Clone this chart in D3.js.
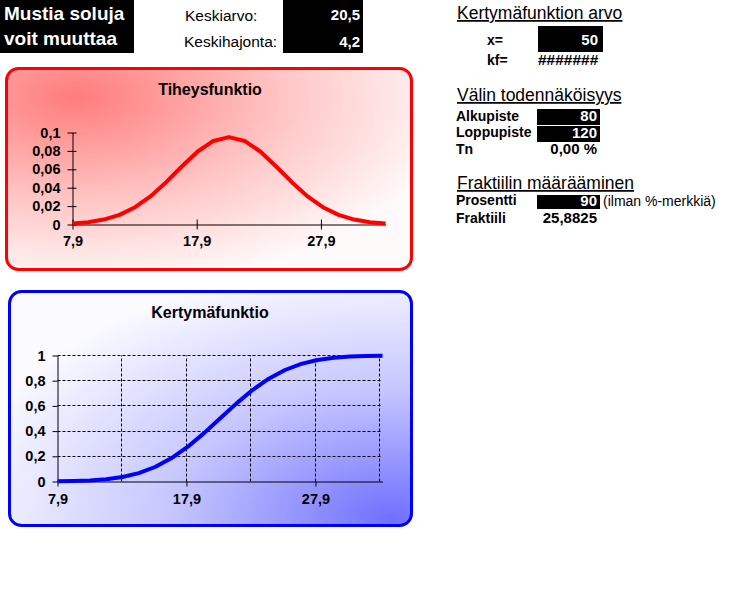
<!DOCTYPE html>
<html><head><meta charset="utf-8">
<script src="https://cdn.jsdelivr.net/npm/d3@7"></script>
<style>
body{margin:0;background:#fff}
text{font-family:"Liberation Sans",Arial,sans-serif}
</style>
</head><body>
<svg id="c" width="731" height="605"></svg>
<script>
// ---- data (normal distribution, mean 20,5, sd 4,2) ----
const xValues = [7.9, 9.16, 10.42, 11.68, 12.94, 14.2, 15.46, 16.72, 17.98, 19.24, 20.5,
                 21.76, 23.02, 24.28, 25.54, 26.8, 28.06, 29.32, 30.58, 31.84, 33.1];
const densityValues = [0.00106, 0.00248, 0.00533, 0.01047, 0.01880, 0.03084, 0.04624, 0.06335,
                       0.07934, 0.09081, 0.09499, 0.09081, 0.07934, 0.06335, 0.04624, 0.03084,
                       0.01880, 0.01047, 0.00533, 0.00248, 0.00106];
const cdfValues = [0.00135, 0.00347, 0.00820, 0.01786, 0.03593, 0.06681, 0.11507, 0.18406,
                   0.27425, 0.38209, 0.5, 0.61791, 0.72575, 0.81594, 0.88493, 0.93319,
                   0.96407, 0.98214, 0.99180, 0.99653, 0.99865];
const xTicks = [7.9, 17.9, 27.9];
const xGrid = [12.9, 17.9, 22.9, 27.9, 32.9];
const densityYTicks = [0, 0.02, 0.04, 0.06, 0.08, 0.1];
const cdfYTicks = [0, 0.2, 0.4, 0.6, 0.8, 1];
const xDomain = [7.9, 33.1];

const fmt = d => String(+d.toFixed(2)).replace('.', ',');

const svg = d3.select('#c');
svg.append('rect').attr('width', 731).attr('height', 605).attr('fill', '#fff');
const defs = svg.append('defs');

// gradients
const rg = defs.append('radialGradient').attr('id', 'redg')
  .attr('cx', 0.17).attr('cy', 0.14).attr('r', 0.95).attr('fx', 0.17).attr('fy', 0.14);
rg.append('stop').attr('offset', 0).attr('stop-color', '#ff7c7c');
rg.append('stop').attr('offset', 0.55).attr('stop-color', '#ffc6c6');
rg.append('stop').attr('offset', 1).attr('stop-color', '#fffafa');

const bg = defs.append('radialGradient').attr('id', 'blueg')
  .attr('cx', 0.95).attr('cy', 0.97).attr('r', 1.1).attr('fx', 0.95).attr('fy', 0.97);
bg.append('stop').attr('offset', 0).attr('stop-color', '#7070ff');
bg.append('stop').attr('offset', 0.5).attr('stop-color', '#c6c6ff');
bg.append('stop').attr('offset', 1).attr('stop-color', '#fbfbff');

// ---- header (spreadsheet cells) ----
const hdr = svg.append('g');
hdr.append('rect').attr('x', 0).attr('y', 0).attr('width', 134).attr('height', 53).attr('fill', '#000');
hdr.append('text').attr('x', 4).attr('y', 20).attr('fill', '#fff').attr('font-weight', 'bold')
  .attr('font-size', 19).text('Mustia soluja');
hdr.append('text').attr('x', 4).attr('y', 45).attr('fill', '#fff').attr('font-weight', 'bold')
  .attr('font-size', 19).text('voit muuttaa');
hdr.append('text').attr('x', 185).attr('y', 21).attr('font-size', 15.5).text('Keskiarvo:');
hdr.append('text').attr('x', 184).attr('y', 47).attr('font-size', 15.5).text('Keskihajonta:');
hdr.append('rect').attr('x', 283).attr('y', 0).attr('width', 80).attr('height', 53).attr('fill', '#000');
hdr.append('text').attr('x', 360).attr('y', 20).attr('text-anchor', 'end').attr('fill', '#fff')
  .attr('font-weight', 'bold').attr('font-size', 15).text('20,5');
hdr.append('text').attr('x', 360).attr('y', 47).attr('text-anchor', 'end').attr('fill', '#fff')
  .attr('font-weight', 'bold').attr('font-size', 15).text('4,2');

// right side cells
const rp = svg.append('g');
function heading(y, t){
  rp.append('text').attr('x', 457).attr('y', y).attr('font-size', 17.5)
    .style('text-decoration', 'underline').text(t);
}
function label(x, y, t, opts = {}){
  const el = rp.append('text').attr('x', x).attr('y', y).attr('font-size', opts.size || 14)
    .attr('font-weight', opts.normal ? 'normal' : 'bold').text(t);
  if (opts.end) el.attr('text-anchor', 'end');
  if (opts.fill) el.attr('fill', opts.fill);
  if (opts.italic) el.attr('font-style', 'italic');
  return el;
}
function box(x, y, w, h){ rp.append('rect').attr('x', x).attr('y', y).attr('width', w).attr('height', h).attr('fill', '#000'); }

heading(19, 'Kertymäfunktion arvo');
label(487, 45, 'x=');
box(538, 26, 65, 26);
label(598, 45, '50', {end: true, fill: '#fff', size: 15});
label(487, 65, 'kf=');
label(598, 65, '#######', {end: true, italic: true, size: 15.5});

heading(101, 'Välin todennäköisyys');
label(456, 121, 'Alkupiste');
box(537, 109, 63, 16);
label(597, 121, '80', {end: true, fill: '#fff', size: 15});
label(456, 137, 'Loppupiste');
box(537, 126, 63, 16);
label(597, 138, '120', {end: true, fill: '#fff', size: 15});
label(456, 154, 'Tn');
label(597, 154, '0,00 %', {end: true, size: 15});

heading(189, 'Fraktiilin määrääminen');
label(456, 205, 'Prosentti');
box(537, 195, 63, 14);
label(597, 206, '90', {end: true, fill: '#fff', size: 15});
label(603, 206, '(ilman %-merkkiä)', {normal: true, size: 14});
label(456, 223, 'Fraktiili');
label(597, 223, '25,8825', {end: true, size: 15});

// ---- chart helper ----
function chartFrame(x, y, w, h, fill, stroke){
  svg.append('rect').attr('x', x).attr('y', y).attr('width', w).attr('height', h)
    .attr('rx', 12).attr('ry', 12).attr('fill', fill).attr('stroke', stroke).attr('stroke-width', 3);
}
function styleAxis(g){
  g.selectAll('text').attr('font-size', 14.5).attr('font-weight', 'bold').attr('fill', '#000')
    .attr('font-family', '"Liberation Sans",Arial,sans-serif');
  g.selectAll('line,path').attr('stroke', '#000');
}

// ---- Tiheysfunktio ----
chartFrame(6.5, 68.5, 405, 201, 'url(#redg)', '#ff0000');
svg.append('text').attr('x', 210).attr('y', 95).attr('text-anchor', 'middle')
  .attr('font-weight', 'bold').attr('font-size', 16).text('Tiheysfunktio');

const x1 = d3.scaleLinear().domain(xDomain).range([72.5, 385.5]);
const y1 = d3.scaleLinear().domain([0, 0.1]).range([224.5, 132.5]);

const gy1 = svg.append('g').attr('transform', 'translate(72.5,0)')
  .call(d3.axisLeft(y1).tickValues(densityYTicks).tickFormat(fmt).tickSize(5).tickSizeOuter(0).tickPadding(7));
gy1.selectAll('.tick line').attr('x1', 4);
const gx1 = svg.append('g').attr('transform', 'translate(0,224.5)')
  .call(d3.axisBottom(x1).tickValues(xTicks).tickFormat(fmt).tickSize(5).tickSizeOuter(0));
gx1.selectAll('.tick line').attr('y1', -5);
gx1.selectAll('.tick text').attr('y', 21).attr('dy', 0);
styleAxis(gy1); styleAxis(gx1);

svg.append('path').datum(xValues.map((d, i) => [d, densityValues[i]]))
  .attr('fill', 'none').attr('stroke', '#ff0000').attr('stroke-width', 4)
  .attr('stroke-linejoin', 'round')
  .attr('d', d3.line().x(d => x1(d[0])).y(d => y1(d[1])));

// ---- Kertymäfunktio ----
chartFrame(9.5, 291.5, 402, 234, 'url(#blueg)', '#0000ff');
svg.append('text').attr('x', 210).attr('y', 318).attr('text-anchor', 'middle')
  .attr('font-weight', 'bold').attr('font-size', 16).text('Kertymäfunktio');

const x2 = d3.scaleLinear().domain(xDomain).range([57.5, 382.5]);
const y2 = d3.scaleLinear().domain([0, 1]).range([481.5, 355.5]);

// gridlines
const grid = svg.append('g').attr('stroke', '#000').attr('stroke-width', 1).attr('stroke-dasharray', '3,2');
grid.selectAll('.hg').data(cdfYTicks.slice(1)).join('line')
  .attr('x1', x2.range()[0]).attr('x2', x2.range()[1])
  .attr('y1', d => Math.round(y2(d) - 0.5) + 0.5).attr('y2', d => Math.round(y2(d) - 0.5) + 0.5);
grid.selectAll('.vg').data(xGrid).join('line')
  .attr('x1', d => Math.round(x2(d) - 0.5) + 0.5).attr('x2', d => Math.round(x2(d) - 0.5) + 0.5)
  .attr('y1', y2.range()[0]).attr('y2', y2.range()[1]);

const gy2 = svg.append('g').attr('transform', 'translate(57.5,0)')
  .call(d3.axisLeft(y2).tickValues(cdfYTicks).tickFormat(fmt).tickSize(5).tickSizeOuter(0).tickPadding(7));
const gx2 = svg.append('g').attr('transform', 'translate(0,481.5)')
  .call(d3.axisBottom(x2).tickValues(xTicks).tickFormat(fmt).tickSize(5).tickSizeOuter(0));
gx2.selectAll('.tick text').attr('y', 22).attr('dy', 0);
styleAxis(gy2); styleAxis(gx2);

svg.append('path').datum(xValues.map((d, i) => [d, cdfValues[i]]))
  .attr('fill', 'none').attr('stroke', '#0000ff').attr('stroke-width', 4)
  .attr('stroke-linejoin', 'round')
  .attr('d', d3.line().x(d => x2(d[0])).y(d => y2(d[1])));
</script>
</body></html>
